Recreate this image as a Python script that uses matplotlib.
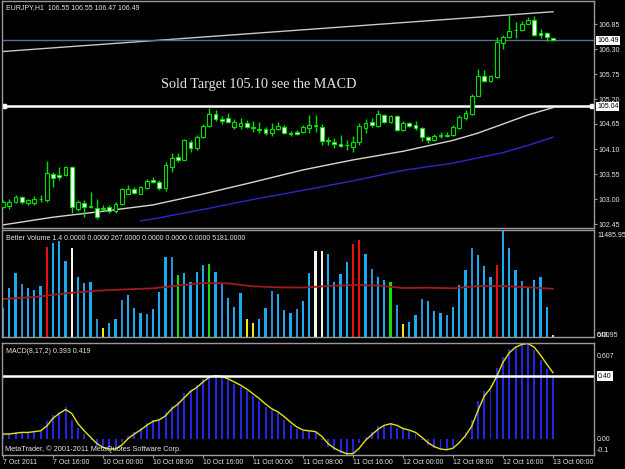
import matplotlib
matplotlib.use("Agg")
import matplotlib.pyplot as plt
from matplotlib.transforms import blended_transform_factory

W, H = 625, 469
plt.rcParams['font.family'] = ['Liberation Sans', 'DejaVu Sans']

# EURJPY H1, 89 bars from 7 Oct 2011 08:00 to 13 Oct 2011 00:00
opens = [102.82, 102.85, 102.94, 103.04, 102.92, 102.92, 103.00, 102.98, 103.54, 103.53,
         103.53, 103.71, 102.77, 102.92, 102.84, 102.81, 102.78, 102.82, 102.74, 102.89,
         103.12, 103.23, 103.11, 103.24, 103.42, 103.37, 103.24, 103.71, 103.93, 103.86,
         104.26, 104.12, 104.36, 104.61, 104.87, 104.76, 104.78, 104.59, 104.61, 104.67,
         104.56, 104.54, 104.53, 104.45, 104.53, 104.59, 104.46, 104.48, 104.48, 104.56,
         104.60, 104.58, 104.30, 104.26, 104.20, 104.18, 104.15, 104.26, 104.56, 104.70,
         104.61, 104.85, 104.70, 104.83, 104.52, 104.68, 104.63, 104.56, 104.37, 104.30,
         104.38, 104.39, 104.41, 104.56, 104.78, 104.88, 105.27, 105.70, 105.60, 105.68,
         106.44, 106.56, 106.72, 106.72, 106.86, 106.94, 106.66, 106.66, 106.55]
highs = [102.98, 103.00, 103.09, 103.07, 103.00, 103.06, 103.09, 103.84, 103.60, 103.71,
         103.73, 103.73, 102.98, 102.98, 103.16, 102.99, 102.86, 102.86, 102.93, 103.24,
         103.31, 103.27, 103.29, 103.45, 103.49, 103.42, 103.82, 104.01, 104.01, 104.33,
         104.30, 104.40, 104.65, 105.00, 104.96, 104.83, 104.89, 104.76, 104.78, 104.74,
         104.72, 104.70, 104.59, 104.67, 104.70, 104.63, 104.50, 104.52, 104.63, 104.85,
         104.85, 104.65, 104.37, 104.34, 104.41, 104.30, 104.39, 104.67, 104.76, 104.78,
         104.96, 104.87, 104.85, 104.85, 104.72, 104.70, 104.72, 104.59, 104.39, 104.43,
         104.48, 104.48, 104.63, 104.85, 104.96, 105.31, 105.86, 105.84, 105.73, 106.56,
         106.61, 107.05, 106.89, 106.91, 107.00, 107.03, 106.74, 106.68, 106.55]
lows = [102.80, 102.78, 102.91, 102.88, 102.87, 102.87, 102.94, 102.94, 103.27, 103.42,
        103.51, 102.70, 102.74, 102.60, 102.80, 102.55, 102.76, 102.70, 102.70, 102.86,
        103.11, 103.10, 103.11, 103.22, 103.35, 103.19, 103.18, 103.60, 103.82, 103.85,
        104.04, 104.08, 104.34, 104.58, 104.72, 104.65, 104.67, 104.55, 104.54, 104.56,
        104.48, 104.45, 104.41, 104.39, 104.52, 104.43, 104.39, 104.41, 104.45, 104.45,
        104.48, 104.19, 104.18, 104.12, 104.14, 104.08, 104.04, 104.19, 104.45, 104.58,
        104.58, 104.67, 104.68, 104.50, 104.50, 104.58, 104.52, 104.28, 104.23, 104.28,
        104.34, 104.36, 104.39, 104.54, 104.74, 104.84, 105.26, 105.58, 105.58, 105.66,
        106.30, 106.54, 106.55, 106.69, 106.84, 106.59, 106.54, 106.48, 106.47]
closes = [102.93, 102.94, 103.04, 102.93, 102.98, 103.01, 102.99, 103.57, 103.46, 103.49,
          103.71, 102.82, 102.94, 102.82, 102.82, 102.61, 102.80, 102.74, 102.89, 103.21,
          103.23, 103.14, 103.26, 103.40, 103.37, 103.25, 103.75, 103.90, 103.86, 104.30,
          104.12, 104.37, 104.61, 104.87, 104.76, 104.72, 104.69, 104.70, 104.67, 104.59,
          104.59, 104.52, 104.45, 104.53, 104.61, 104.45, 104.43, 104.43, 104.59, 104.63,
          104.62, 104.28, 104.27, 104.21, 104.17, 104.19, 104.26, 104.61, 104.68, 104.63,
          104.87, 104.70, 104.83, 104.52, 104.68, 104.61, 104.56, 104.36, 104.30, 104.39,
          104.40, 104.41, 104.59, 104.80, 104.90, 105.27, 105.71, 105.60, 105.71, 106.46,
          106.56, 106.70, 106.71, 106.85, 106.93, 106.61, 106.61, 106.57, 106.49]

# moving averages (read at sample bars)
ma_white_bars = [0, 8, 16, 24, 32, 40, 48, 56, 64, 68, 72, 76, 80, 84, 88]
ma_white = [102.43, 102.60, 102.73, 102.87, 103.11, 103.37, 103.64, 103.86, 104.05,
            104.17, 104.29, 104.45, 104.65, 104.85, 105.01]
ma_blue_bars = [22, 24, 32, 40, 48, 56, 64, 72, 80, 84, 88]
ma_blue = [102.52, 102.56, 102.77, 102.99, 103.19, 103.40, 103.63, 103.79, 104.02, 104.18, 104.36]

trend_bars = [-0.5, 88]
trend_vals = [106.24, 107.12]
bid_price = 106.49
target_line = 105.04
price_ticks = [106.85, 106.30, 105.75, 105.20, 104.65, 104.10, 103.55, 103.00, 102.45]

# Better Volume 1.4
volumes = [3080, 5225, 6900, 5655, 5225, 5043, 5472, 9625, 10118, 10300,
           8155, 9582, 6470, 5826, 5900, 1900, 933, 1535, 1930, 3970,
           4507, 3112, 2540, 2468, 2970, 4860, 8617, 8617, 6685, 6835,
           5934, 6940, 7760, 7833, 6975, 5762, 4217, 3251, 4689, 1900,
           1470, 1900, 3080, 4936, 4580, 2897, 2575, 2970, 3895, 6835,
           9228, 9228, 8906, 5900, 6760, 8015, 9947, 10408, 8906, 7264,
           6470, 6116, 5900, 3400, 1395, 1642, 2360, 4077, 3863, 2790,
           2540, 2360, 3219, 5580, 7190, 9582, 8800, 7650, 6405, 7726,
           11486, 9518, 7221, 6040, 5225, 6116, 6470, 3219, 267]
vol_kind = list("sbbsbbbrbbbwbbbsybbsbbbsbbbsgbbbbgbsbbbyybbsbbbs"
                "bbwwbbbbrrbsbbgsybbsbbbsbbbsbbbrbbbsbbbby")
vol_avg_bars = [0, 5, 10, 15, 20, 24, 28, 32, 36, 40, 44, 48, 52, 56, 60, 64, 68, 72, 76, 80, 84, 88]
vol_avg = [4077, 4290, 4690, 4970, 5120, 5225, 5525, 5790, 5760, 5440, 5330, 5310, 5470,
           5580, 5525, 5260, 5290, 5225, 5470, 5470, 5330, 5181]

# MACD(8,17,2)
macd = [0.03, 0.03, 0.04, 0.04, 0.04, 0.05, 0.05, 0.11, 0.15, 0.17,
        0.20, 0.12, 0.07, 0.03, -0.01, -0.05, -0.06, -0.07, -0.06, -0.02,
        0.02, 0.04, 0.07, 0.10, 0.12, 0.12, 0.17, 0.21, 0.23, 0.29,
        0.31, 0.34, 0.38, 0.40, 0.40, 0.39, 0.37, 0.35, 0.33, 0.30,
        0.27, 0.24, 0.20, 0.18, 0.16, 0.12, 0.09, 0.06, 0.05, 0.05,
        0.04, -0.01, -0.05, -0.07, -0.09, -0.10, -0.09, -0.03, 0.01, 0.04,
        0.08, 0.09, 0.10, 0.07, 0.06, 0.05, 0.03, -0.01, -0.04, -0.06,
        -0.07, -0.07, -0.05, 0.00, 0.04, 0.12, 0.24, 0.30, 0.34, 0.45,
        0.52, 0.57, 0.59, 0.607, 0.60, 0.56, 0.50, 0.445, 0.393]
signal = [0.03, 0.03, 0.035, 0.04, 0.04, 0.045, 0.05, 0.08, 0.13, 0.16,
          0.185, 0.16, 0.095, 0.05, 0.01, -0.03, -0.055, -0.065, -0.065, -0.04,
          0.00, 0.03, 0.055, 0.085, 0.11, 0.12, 0.145, 0.19, 0.22, 0.26,
          0.30, 0.325, 0.36, 0.39, 0.40, 0.395, 0.38, 0.36, 0.34, 0.315,
          0.285, 0.255, 0.22, 0.19, 0.17, 0.14, 0.105, 0.075, 0.055, 0.05,
          0.045, 0.015, -0.03, -0.06, -0.08, -0.095, -0.095, -0.06, -0.01, 0.025,
          0.06, 0.085, 0.095, 0.085, 0.065, 0.055, 0.04, 0.01, -0.025, -0.05,
          -0.065, -0.07, -0.06, -0.025, 0.02, 0.08, 0.18, 0.27, 0.32, 0.395,
          0.485, 0.545, 0.58, 0.598, 0.604, 0.58, 0.53, 0.473, 0.419]
macd_level = 0.40

time_bars = [0, 8, 16, 24, 32, 40, 48, 56, 64, 72, 80, 88]
time_labels = ['7 Oct 2011', '7 Oct 16:00', '10 Oct 00:00', '10 Oct 08:00', '10 Oct 16:00',
               '11 Oct 00:00', '11 Oct 08:00', '11 Oct 16:00', '12 Oct 00:00', '12 Oct 08:00',
               '12 Oct 16:00', '13 Oct 00:00']

bars = list(range(len(closes)))
xlim = (-0.16, 94.56)
frame = '#9a9a9a'
txt = '#e6e6e6'

fig = plt.figure(figsize=(W / 100, H / 100), dpi=100, facecolor='black')


def panel(top, bottom):
    ax = fig.add_axes([2 / W, 1 - bottom / H, 592 / W, (bottom - top) / H])
    ax.set_facecolor('black')
    for s in ax.spines.values():
        s.set_color(frame)
        s.set_linewidth(1)
    ax.set_xlim(*xlim)
    ax.set_xticks([])
    return ax


def ftext(x, y, s, **kw):
    kw.setdefault('color', txt)
    kw.setdefault('fontsize', 5)
    kw.setdefault('va', 'center')
    fig.text(x / W, 1 - y / H, s, **kw)


# ---- price panel
ax1 = panel(1, 228)
ax1.set_ylim(102.362, 107.356)
ax1.plot(trend_bars, trend_vals, color='#c8c8c8', lw=1)
ax1.axhline(bid_price, color='#56718c', lw=1)
ax1.axhline(target_line, color='white', lw=1.8)
ax1.plot([xlim[0] + 0.35, xlim[1] - 0.35], [target_line, target_line], 's', color='white', ms=3.5)
ax1.plot(ma_white_bars, ma_white, color='#d8d8c8', lw=1)
ax1.plot(ma_blue_bars, ma_blue, color='#2a2acc', lw=1)
ax1.vlines(bars, lows, highs, color='#00e000', lw=1, zorder=3)
bull = [c >= o for o, c in zip(opens, closes)]
ax1.bar(bars, [abs(c - o) for o, c in zip(opens, closes)],
        bottom=[min(o, c) for o, c in zip(opens, closes)], width=0.6,
        color=['black' if b else 'white' for b in bull], edgecolor='#00e000', lw=0.8, zorder=4)
ax1.yaxis.tick_right()
ax1.set_yticks(price_ticks)
ax1.set_yticklabels([f"{v:.2f}" for v in price_ticks])
ax1.tick_params(axis='y', direction='out', length=2, width=0.8, color=frame,
                labelcolor=txt, labelsize=5, pad=1)
tr1 = blended_transform_factory(ax1.transAxes, ax1.transData)
for v in [bid_price, target_line]:
    ax1.text(1.0, v, f"{v:.2f}", transform=tr1, fontsize=5, color='black', va='center',
             ha='left', bbox=dict(boxstyle='square,pad=0.15', fc='white', ec='none'),
             clip_on=False).set_x(1.0 + 3 / 592)
ftext(6, 8, 'EURJPY,H1  106.55 106.55 106.47 106.49')
ax1.text(0.268, 105.45, 'Sold Target 105.10 see the MACD', transform=tr1,
         family='Liberation Serif', fontsize=10.2, color='#e4e4e4', va='baseline')

# ---- volume panel
ax2 = panel(230, 337)
ax2.set_ylim(0, 11486)
ax2.set_yticks([])
vcol = {'b': '#1aaaf0', 's': '#2f8ed0', 'r': '#e81010', 'w': '#f4f4ea', 'g': '#10e010', 'y': '#f0f000'}
ax2.bar(bars, volumes, width=0.34, color=[vcol[k] for k in vol_kind])
ax2.plot(vol_avg_bars, vol_avg, color='#a01c1c', lw=1.3)
ftext(6, 238, 'Better Volume 1.4 0.0000 0.0000 267.0000 0.0000 0.0000 0.0000 5181.0000')
ftext(597, 235, '11485.95')
ftext(597, 335, '648.95')
ftext(597, 335, '0.00')

# ---- MACD panel
ax3 = panel(343, 454.5)
ax3.set_ylim(-0.1, 0.607)
ax3.set_yticks([])
ax3.bar(bars, macd, width=0.32, color='#2424e8')
ax3.plot(bars, signal, color='#e6e600', lw=1)
ax3.axhline(macd_level, color='white', lw=1.8)
ax3.set_xticks(time_bars)
ax3.set_xticklabels(time_labels, ha='left')
ax3.tick_params(axis='x', direction='out', length=2, width=0.8, color=frame,
                labelcolor=txt, labelsize=5, pad=1.5)
ftext(6, 351, 'MACD(8,17,2) 0.393 0.419')
ftext(5, 449, 'MetaTrader, \u00a9 2001-2011 MetaQuotes Software Corp.', fontsize=5.3)
ftext(597, 356, '0.607')
ftext(598, 376, '0.40', color='black',
      bbox=dict(boxstyle='square,pad=0.15', fc='white', ec='none'))
ftext(597, 439, '0.00')
ftext(597, 450, '-0.1')

fig.savefig('out.png', dpi=100, facecolor='black')
